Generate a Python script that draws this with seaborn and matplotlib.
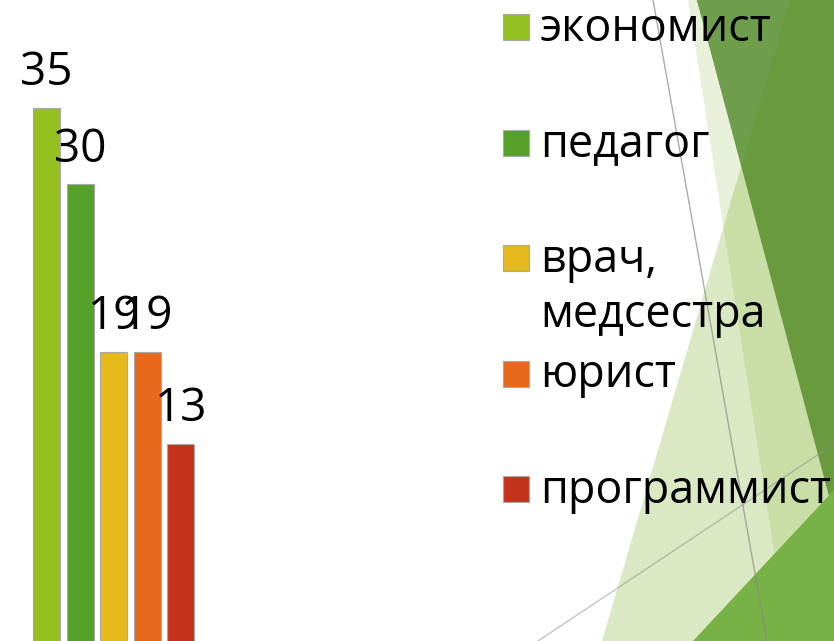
import matplotlib
matplotlib.use("Agg")
import matplotlib.pyplot as plt
from matplotlib.patches import Polygon, Rectangle
import seaborn as sns
import pandas as pd

# chart data
professions = ["экономист", "педагог", "врач,\nмедсестра", "юрист", "программист"]
counts = [35, 30, 19, 19, 13]
bar_colors = ["#94c11f", "#56a12a", "#e5b81e", "#e8691b", "#c4321c"]

sns.set_theme(style="white")
plt.rcParams['font.family'] = ['Open Sans', 'DejaVu Sans']

W, H = 834, 641
fig = plt.figure(figsize=(W / 100, H / 100), dpi=100)
fig.patch.set_facecolor("white")

# background decoration (slide theme), drawn in pixel coordinates
bg = fig.add_axes([0, 0, 1, 1], zorder=0)
bg.set_xlim(0, W)
bg.set_ylim(H, 0)
bg.axis("off")

tint = "#669e00"
# pale strip and light triangle overlap with transparency
bg.add_patch(Polygon([(688, 0), (900, 0), (900, H), (788, H)], closed=True,
                     facecolor=tint, alpha=0.15, lw=0))
bg.add_patch(Polygon([(602, H), (790, 0), (960, H)], closed=True,
                     facecolor=tint, alpha=0.23, lw=0))
# dark green triangle top right
bg.add_patch(Polygon([(697, 0), (834, 0), (834, 515)], closed=True,
                     facecolor="#699a3e", lw=0))
bg.add_patch(Polygon([(697, 0), (790, 0), (742, 166)], closed=True,
                     facecolor="#6e9d4b", lw=0))
# medium green triangle bottom right
bg.add_patch(Polygon([(693, H), (834, H), (834, 490)], closed=True,
                     facecolor="#78b247", lw=0))
# thin grey lines
bg.plot([653, 767], [0, H], color="#8a8a8a", lw=1.0, alpha=0.7)
bg.plot([538, 834], [H, 444], color="#8a8a8a", lw=1.0, alpha=0.5)

# bar chart
ax = fig.add_axes([29.7 / W, -1.5 / H, 168 / W, 642.5 / H], zorder=1)
ax.patch.set_alpha(0)
df = pd.DataFrame({"prof": professions, "count": counts})
sns.barplot(data=df, x="prof", y="count", hue="prof", palette=bar_colors,
            order=professions, hue_order=professions, width=0.8, saturation=1,
            edgecolor="#a8a8a8", linewidth=0.8, legend=False, ax=ax)
ax.set_xlim(-0.5, 4.5)
ax.set_ylim(0, 42.08)
ax.axis("off")

for i, v in enumerate(counts):
    ax.annotate(str(v), (i, v), xytext=(0, 16.5), textcoords="offset points",
                ha="center", va="baseline", fontsize=33, color="black",
                annotation_clip=False)

# legend, one slot per category
for i, (name, col) in enumerate(zip(professions, bar_colors)):
    base = 41 + i * 115.5
    bg.add_patch(Rectangle((503, base - 27), 26, 26, facecolor=col,
                           edgecolor="#a8a8a8", lw=0.8, zorder=3))
    lines = name.split("\n")
    for j, line in enumerate(lines):
        bg.text(540, base + j * 55, line, fontsize=32.3, color="black",
                ha="left", va="baseline", zorder=4)

fig.savefig("out.png", dpi=100)
